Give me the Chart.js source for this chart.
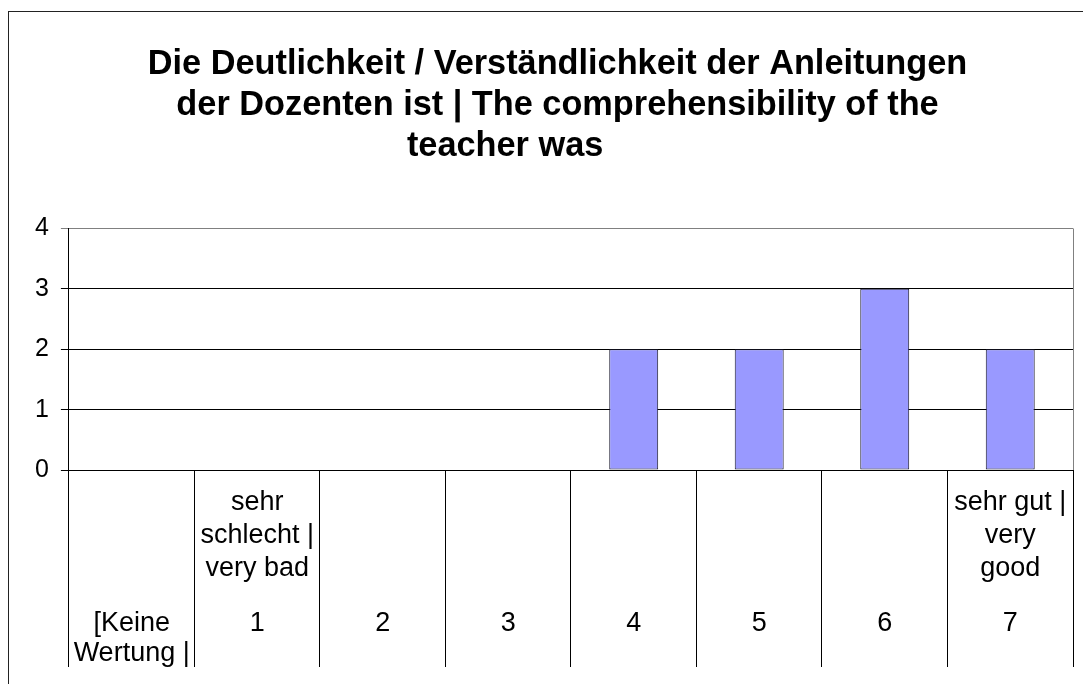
<!DOCTYPE html>
<html>
<head>
<meta charset="utf-8">
<script src="https://cdn.jsdelivr.net/npm/chart.js@4"></script>
<style>
  html, body { margin: 0; padding: 0; background: #fff; }
  #wrap { position: relative; width: 1083px; height: 684px; }
  #frame {
    position: absolute; left: 8px; top: 11px; right: -5px; bottom: -5px;
    border-left: 1px solid #222; border-top: 1px solid #222;
    pointer-events: none;
  }
  canvas { position: absolute; left: 0; top: 0; }
</style>
</head>
<body>
<div id="wrap">
  <canvas id="chart" width="1083" height="684"></canvas>
  <div id="frame"></div>
</div>
<script>
// wordy part of each category label (empty for the plain numbers)
const categoryWords = [
  [""],
  ["sehr", "schlecht |", "very bad"],
  [""], [""], [""], [""], [""],
  ["sehr gut |", "very", "good"]
];
// scale value part of each label
const categoryNumbers = [
  ["[Keine", "Wertung |"],
  "1", "2", "3", "4", "5", "6", "7"
];
const counts = [0, 0, 0, 0, 2, 2, 3, 2];
const yTicks = [0, 1, 2, 3, 4];

const NB = "\u00a0";
const titleLines = [
  NB + NB + "Die Deutlichkeit / Verständlichkeit der Anleitungen",
  NB + NB + "der Dozenten ist | The comprehensibility of the",
  "teacher was" + NB.repeat(9)
];

const family   = "'Liberation Sans', Arial, sans-serif";
const xFont    = { family, size: 27, lineHeight: 33 / 27 };
const numFont  = { family, size: 27, lineHeight: 1.1 };
const yFont    = { family, size: 25, lineHeight: 1.2 };

// separators under the axis = x grid tick marks; labels pulled back up
// with negative padding, axis box heights fixed in afterFit
const sepLength = 197;

new Chart(document.getElementById("chart"), {
  type: "bar",
  data: {
    labels: categoryWords,
    datasets: [{
      data: counts,
      backgroundColor: "#9999ff",
      borderColor: "#1a1a2e",
      borderWidth: 1,
      borderSkipped: false,
      categoryPercentage: 1,
      barPercentage: 0.39
    }]
  },
  options: {
    responsive: false,
    animation: false,
    devicePixelRatio: 1,
    layout: { padding: { left: 23, right: 10, top: 0, bottom: 0 } },
    plugins: {
      legend: { display: false },
      tooltip: { enabled: false },
      title: {
        display: true,
        text: titleLines,
        color: "#000",
        font: { family, size: 34.3, weight: "bold", lineHeight: 1.2 },
        padding: { top: 44, bottom: 61 }
      }
    },
    scales: {
      x: {
        offset: true,
        weight: 0,
        afterFit: s => { s.height = 122; },
        grid: {
          offset: true,
          color: c => c.tick ? "rgba(0,0,0,0)" : "#808080",
          tickColor: "#000",
          tickLength: sepLength,
          lineWidth: 1
        },
        border: { color: "#000" },
        ticks: {
          font: xFont, color: "#000", padding: -181,
          maxRotation: 0, minRotation: 0, autoSkip: false
        }
      },
      x2: {
        type: "category",
        position: "bottom",
        labels: categoryNumbers,
        offset: true,
        weight: 1,
        afterFit: s => { s.height = 92; },
        grid: { display: false },
        border: { display: false },
        ticks: {
          font: numFont, color: "#000", padding: 9,
          maxRotation: 0, minRotation: 0, autoSkip: false
        }
      },
      y: {
        min: yTicks[0],
        max: yTicks[yTicks.length - 1],
        afterBuildTicks: s => { s.ticks = yTicks.map(v => ({ value: v })); },
        grid: {
          color: c => (c.tick && c.tick.value === 4) ? "#808080" : "#000",
          tickLength: 8,
          lineWidth: 1
        },
        border: { color: "#000" },
        ticks: { font: yFont, color: "#000", padding: 12 }
      }
    }
  }
});
</script>
</body>
</html>
